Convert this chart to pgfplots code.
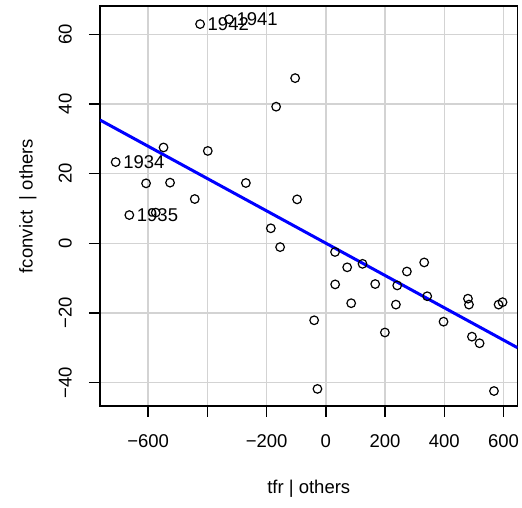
\documentclass[border=0pt]{standalone}
\usepackage{fontspec}
\setmainfont{Liberation Sans}
\usepackage{pgfplots}
\pgfplotsset{compat=1.18}
\definecolor{gridgray}{HTML}{D3D3D3}

\begin{document}
\fontsize{18.5}{22}\selectfont
\begin{tikzpicture}[x=1pt,y=1pt]
\path[use as bounding box] (0,0) rectangle (522,508);
\begin{axis}[
    at={(100pt,102pt)}, anchor=south west,
    scale only axis, width=417.5pt, height=400pt,
    xmin=-762.5, xmax=647, ymin=-46.7, ymax=68.1,
    xtick={-600,-400,...,600},
    xticklabels={−600,,−200,0,200,400,600},
    ytick={-40,-20,...,60},
    yticklabels={−40,−20,0,20,40,60},
    grid=major,
    major grid style={gridgray, line width=1.3pt},
    axis line style={line width=1.3pt},
    tick style={black, line width=1.3pt},
    tick align=outside, major tick length=11pt,
    tick pos=left,
    xticklabel style={anchor=north, inner sep=0pt, yshift=-17pt},
    yticklabel style={rotate=90, anchor=south, inner sep=0pt, yshift=17pt},
    xlabel={tfr | others},
    ylabel={fconvict\ \ | others},
    xlabel style={at={(axis description cs:0.5,0)}, anchor=center, yshift=-83pt},
    ylabel style={at={(axis description cs:0,0.5)}, anchor=center, yshift=72pt},
    clip=true,
]
% fitted line
\addplot[blue, line width=3pt] coordinates {(-762.5,35.38) (647,-29.97)};
% unlabeled points
\addplot[only marks, mark=o, mark size=4.3pt, mark options={line width=1.2pt, black}] table {
x y
-103.7 47.4
-167.9 39.2
-548 27.5
-398.6 26.5
-607 17.2
-526 17.4
-270 17.3
-442.6 12.7
-97 12.6
-574.3 8.8
-185.8 4.3
-154.4 -1.1
31 -2.5
72 -6.9
123.8 -5.9
31.4 -11.8
166.6 -11.7
240.9 -12.1
273.6 -8.1
332 -5.5
342.2 -15.2
85.5 -17.2
236.5 -17.6
479.7 -15.9
483.1 -17.6
583.1 -17.6
596.6 -16.9
-39.5 -22.1
397.3 -22.5
199.3 -25.6
493.2 -26.8
519 -28.7
-28.4 -41.8
567.6 -42.4
};
% labeled points
\addplot[only marks, mark=o, mark size=4.3pt, mark options={line width=1.2pt, black},
    nodes near coords, point meta=explicit symbolic,
    nodes near coords style={anchor=west, inner sep=0pt, xshift=7pt, font=\fontsize{18.5}{22}\selectfont}]
    table[meta=label] {
x y label
-424.6 62.9 1942
-327 64.3 1941
-709.6 23.3 1934
-663.5 8.1 1935
};
\end{axis}
\end{tikzpicture}
\end{document}
